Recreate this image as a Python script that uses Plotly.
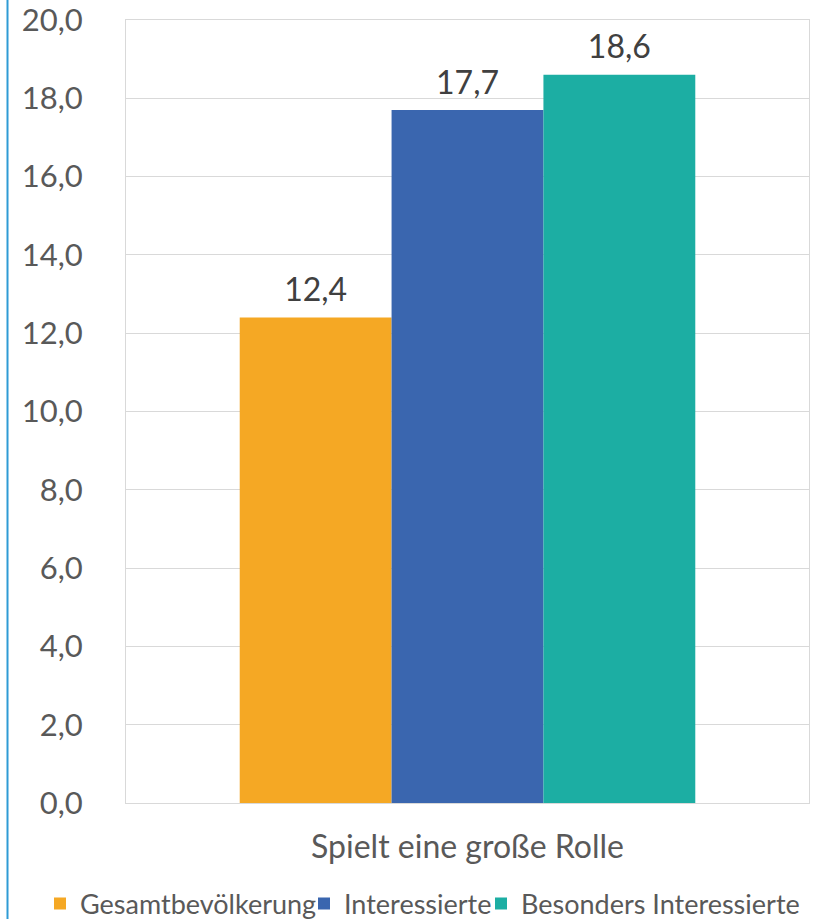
import plotly.graph_objects as go

categories = ["Spielt eine große Rolle"]
series_names = ["Gesamtbevölkerung", "Interessierte", "Besonders Interessierte"]
series_values = [[12.4], [17.7], [18.6]]
series_colors = ["#F5A824", "#3A66AF", "#1CAEA3"]
y_ticks = [0, 2, 4, 6, 8, 10, 12, 14, 16, 18, 20]

W, H = 828, 919
ML, MR, MT, MB = 126, 19, 20, 116
PW, PH = W - ML - MR, H - MT - MB
legend_ids = ["legend", "legend2", "legend3"]
legend_left_px = [40, 304, 481]
GAP = 0.333

fig = go.Figure()
for i, (name, vals, col, lid) in enumerate(zip(series_names, series_values, series_colors, legend_ids)):
    fig.add_trace(go.Bar(
        x=categories, y=vals, name=name, legend=lid,
        offsetgroup=f"g{i}", alignmentgroup="a",
        marker=dict(color=col, line=dict(width=0)),
    ))
for i, vals in enumerate(series_values):
    fig.add_trace(go.Scatter(
        x=categories, y=vals, mode="markers+text", showlegend=False, hoverinfo="skip",
        offsetgroup=f"g{i}", alignmentgroup="a",
        marker=dict(size=12, opacity=0),
        texttemplate="%{y:.1f}", textposition="top center", cliponaxis=False,
        textfont=dict(family="Lato", size=32, color="#404040"),
    ))

legend_common = dict(orientation="h", xref="container", xanchor="left",
                     yref="container", y=1 - 904 / H, yanchor="middle",
                     font=dict(family="Lato", size=27, color="#595959"),
                     itemwidth=30, bgcolor="rgba(0,0,0,0)")
legends = {lid: dict(legend_common, x=px / W) for lid, px in zip(legend_ids, legend_left_px)}

fig.update_layout(
    width=W, height=H,
    margin=dict(l=ML, r=MR, t=MT, b=MB, autoexpand=False),
    paper_bgcolor="white", plot_bgcolor="white",
    separators=",.",
    font=dict(family="Lato", color="#595959"),
    barmode="group", bargap=GAP, bargroupgap=0,
    scattermode="group", scattergap=GAP,
    showlegend=True,
    shapes=[dict(type="line", xref="paper", yref="paper",
                 x0=(7.5 - ML) / PW, x1=(7.5 - ML) / PW,
                 y0=-MB / PH, y1=1 + MT / PH,
                 line=dict(color="#2F9BD5", width=2))],
    **legends,
)
fig.update_yaxes(range=[0, 20], tickvals=y_ticks, tickformat=".1f", automargin=False,
                 showgrid=True, gridcolor="#D9D9D9", gridwidth=1,
                 showline=True, linecolor="#D9D9D9", linewidth=1, mirror=True,
                 zeroline=False, ticks="", ticklabelstandoff=36, ticklabeloverflow="allow",
                 tickfont=dict(family="Lato", size=31, color="#595959"))
fig.update_xaxes(showline=True, linecolor="#D9D9D9", linewidth=1, mirror=True, automargin=False,
                 ticks="", ticklabelstandoff=16,
                 tickfont=dict(family="Lato", size=32, color="#595959"))

fig.write_html("out.html")
